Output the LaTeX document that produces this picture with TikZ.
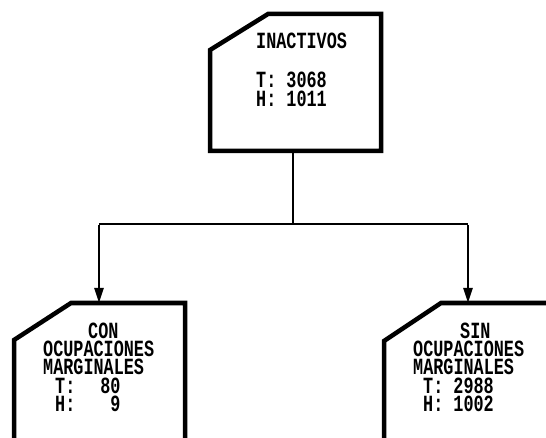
\documentclass[tikz,border=0pt]{standalone}
\usepackage{fontspec}
\newfontfamily\dfont{Liberation Mono}
\usetikzlibrary{arrows.meta}
\tikzset{
  boxline/.style={line width=4.5pt, line join=miter},
  conn/.style={line width=2.6pt},
  arr/.style={conn, -{Triangle[length=15pt,width=9pt]}},
  txt/.style={anchor=base west, inner sep=0pt, font=\dfont\bfseries\fontsize{16.8}{13.4}\selectfont}
}
\newcommand{\lines}[2]{\scalebox{1}[1.38]{\vtop{\baselineskip=#1\lineskiplimit=-100pt\lineskip=0pt #2}}}
\begin{document}
\begin{tikzpicture}[x=1pt,y=-1pt]
\useasboundingbox[fill=white] (0,0) rectangle (546,438);
% boxes
\draw[boxline] (210,50) -- (268,14) -- (381,14) -- (381,151) -- (210,151) -- cycle;
\draw[boxline] (14,460) -- (14,340) -- (71,303) -- (185,303) -- (185,460);
\draw[boxline] (384,460) -- (384,341) -- (441,303) -- (560,303);
% connector points
\coordinate (topout) at (293,151);
\coordinate (junc) at (293,224);
\coordinate (jl) at (99,224);
\coordinate (jr) at (468,224);
\coordinate (inl) at (99,303);
\coordinate (inr) at (468,303);
\draw[conn] (topout) -- (junc);
\draw[conn] (jl) -- (jr);
\draw[arr] ([yshift=-1.3pt]jl) -- (inl);
\draw[arr] ([yshift=-1.3pt]jr) -- (inr);
% texts
\node[txt] (ta) at (256,49) {\lines{13.9pt}{\hbox{INACTIVOS}\hbox{}\hbox{T: 3068}\hbox{H: 1011}}};
\node[txt] (tb) at (43,338) {\lines{13.4pt}{\hbox{\kern45pt CON}\hbox{OCUPACIONES}\hbox{MARGINALES}\hbox{\kern12pt T:\kern25pt 80}\hbox{\kern12pt H:\kern35pt 9}}};
\node[txt] (tc) at (413,338) {\lines{13.4pt}{\hbox{\kern47pt SIN}\hbox{OCUPACIONES}\hbox{MARGINALES}\hbox{\kern10pt T: 2988}\hbox{\kern10pt H: 1002}}};
\end{tikzpicture}
\end{document}
